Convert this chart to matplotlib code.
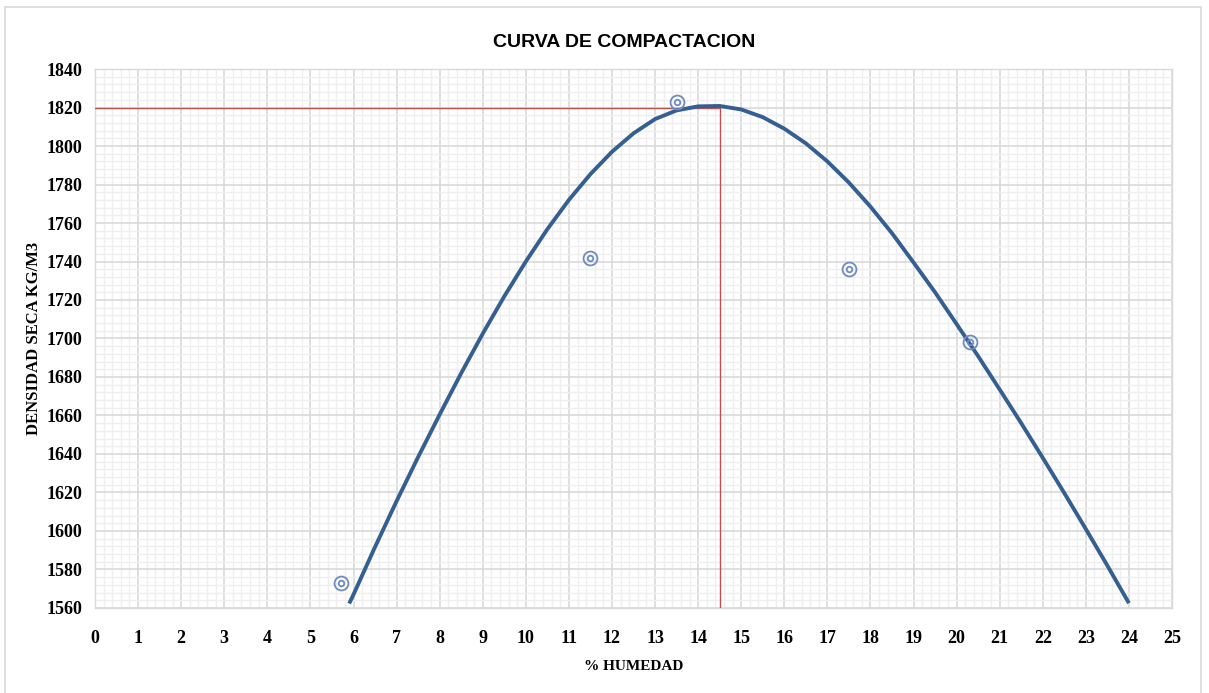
import matplotlib.pyplot as plt
from matplotlib.patches import Rectangle
from matplotlib.ticker import MultipleLocator

# measured points (humedad %, densidad seca)
hum = [5.7, 11.5, 13.5, 17.5, 20.3]
dens = [1573, 1742, 1823, 1736, 1698]

# compaction curve
curve_x = [5.9, 6, 6.5, 7, 7.5, 8, 8.5, 9, 9.5, 10, 10.5, 11, 11.5, 12, 12.5,
           13, 13.5, 14, 14.5, 15, 15.5, 16, 16.5, 17, 17.5, 18, 18.5, 19,
           19.5, 20, 20.5, 21, 21.5, 22, 22.5, 23, 23.5, 24]
curve_y = [1562.3, 1567, 1591.7, 1615.5, 1638.4, 1660.5, 1682, 1702.5, 1721.9,
           1740, 1756.8, 1772, 1785.4, 1797, 1806.6, 1814, 1818.5, 1820.6,
           1820.8, 1819, 1815, 1809, 1801.4, 1792, 1781, 1768.5, 1754.7, 1739.5,
           1724, 1707.5, 1690.8, 1673.5, 1656, 1638, 1619.7, 1601, 1582, 1562.5]

# optimum moisture / max dry density guide lines
opt_x = [0, 14.5, 14.5]
opt_y = [1820, 1820, 1560]

serif = ['Liberation Serif', 'DejaVu Serif']

fig = plt.figure(figsize=(12.09, 6.93), dpi=100)
ax = fig.add_axes([0.0786, 0.1227, 0.8908, 0.7777])

ax.set_xlim(0, 25)
ax.set_ylim(1560, 1840)
ax.xaxis.set_major_locator(MultipleLocator(1))
ax.xaxis.set_minor_locator(MultipleLocator(0.2))
ax.yaxis.set_major_locator(MultipleLocator(20))
ax.yaxis.set_minor_locator(MultipleLocator(4))
ax.grid(which='minor', color='#efefef', lw=1.0)
ax.grid(which='major', color='#d9d9d9', lw=1.2)
ax.set_axisbelow(True)
for s in ax.spines.values():
    s.set_color('#d9d9d9')
    s.set_linewidth(1.0)

ax.tick_params(which='both', length=0)
ax.tick_params(axis='x', pad=16)
ax.tick_params(axis='y', pad=9)
for lab in ax.get_xticklabels() + ax.get_yticklabels():
    lab.set_fontfamily(serif)
    lab.set_fontweight('bold')
    lab.set_fontsize(13)

ax.plot(opt_x, opt_y, color='#c0504d', lw=1.0, zorder=3)
ax.plot(curve_x, curve_y, color='#365f91', lw=2.8, solid_capstyle='butt',
        solid_joinstyle='round', zorder=4)
ax.plot(hum, dens, ls='none', marker='o', ms=10, mfc='none', mec='#6f8cbf', mew=1.3, zorder=5)
ax.plot(hum, dens, ls='none', marker='o', ms=4, mfc='none', mec='#6f8cbf', mew=1.3, zorder=5)

fig.text(0.516, 0.939, 'CURVA DE COMPACTACION', ha='center', va='center',
         family=['Liberation Sans Narrow', 'Liberation Sans', 'DejaVu Sans'],
         fontweight='bold', fontsize=14)
ax.set_xlabel('% HUMEDAD', family=serif, fontweight='bold', fontsize=11, labelpad=9)
ax.set_ylabel('DENSIDAD SECA KG/M3', family=serif, fontweight='bold', fontsize=12, labelpad=3)

fig.add_artist(Rectangle((0.0041, -0.01), 0.9893, 0.9999, transform=fig.transFigure,
                         fill=False, edgecolor='#d9d9d9', lw=1.2))

fig.savefig('out.png', dpi=100)
